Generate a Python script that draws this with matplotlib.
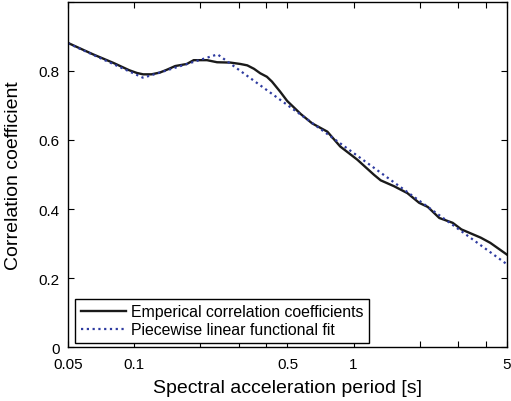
import numpy as np
import matplotlib
matplotlib.use("Agg")
import matplotlib.pyplot as plt
from matplotlib.ticker import FixedLocator, NullLocator, FixedFormatter

plt.rcParams['font.family'] = ['Liberation Sans', 'DejaVu Sans']

period_emp = [0.05, 0.065, 0.0806, 0.095, 0.103, 0.11, 0.12, 0.131, 0.142, 0.154,
              0.174, 0.187, 0.215, 0.239, 0.275, 0.305, 0.328, 0.352, 0.376, 0.403,
              0.425, 0.463, 0.4985, 0.575, 0.648, 0.76, 0.87, 1.04, 1.24, 1.33,
              1.53, 1.76, 1.99, 2.18, 2.46, 2.83, 3.1, 3.8, 4.2, 5.0]
corr_emp = [0.881, 0.848, 0.823, 0.802, 0.794, 0.790, 0.790, 0.795, 0.804, 0.814,
            0.820, 0.831, 0.831, 0.825, 0.824, 0.820, 0.816, 0.806, 0.793, 0.783,
            0.769, 0.740, 0.713, 0.675, 0.648, 0.624, 0.581, 0.543, 0.499, 0.483,
            0.466, 0.446, 0.418, 0.406, 0.374, 0.360, 0.341, 0.317, 0.302, 0.268]

# piecewise linear fit knots
period_fit = [0.05, 0.11, 0.24, 5.0]
corr_fit = [0.88, 0.78, 0.848, 0.24]

xticks = [0.05, 0.1, 0.2, 0.3, 0.4, 0.5, 1, 2, 3, 4, 5]
xticklabels = ['0.05', '0.1', '', '', '', '0.5', '1', '', '', '', '5']
yticks = [0, 0.2, 0.4, 0.6, 0.8, 1.0]
yticklabels = ['0', '0.2', '0.4', '0.6', '0.8', '']

fig = plt.figure(figsize=(5.11, 4.02), dpi=100)
ax = fig.add_axes([0.133, 0.134, 0.859, 0.859])

# fit line is straight in log-period, so sample it densely in log space
t_dense = np.logspace(np.log10(period_fit[0]), np.log10(period_fit[-1]), 400)
fit_dense = np.interp(np.log10(t_dense), np.log10(period_fit), corr_fit)

ax.plot(period_emp, corr_emp, color='#1a1a1a', lw=1.7, label='Emperical correlation coefficients')
ax.plot(t_dense, fit_dense, color='#2e3ba0', lw=1.6, linestyle=(0, (1, 1.6)),
        label='Piecewise linear functional fit')

ax.set_xscale('log')
ax.set_xlim(0.05, 5)
ax.set_ylim(0, 1)
ax.xaxis.set_major_locator(FixedLocator(xticks))
ax.xaxis.set_major_formatter(FixedFormatter(xticklabels))
ax.xaxis.set_minor_locator(NullLocator())
ax.set_yticks(yticks)
ax.set_yticklabels(yticklabels)
ax.tick_params(direction='in', top=True, right=True, length=4, width=0.8,
               labelsize=11)
ax.tick_params(axis='x', pad=7)
ax.tick_params(axis='y', pad=6)
for s in ax.spines.values():
    s.set_linewidth(1.0)

ax.set_xlabel('Spectral acceleration period [s]', fontsize=14, labelpad=6)
ax.set_ylabel('Correlation coefficient', fontsize=14, labelpad=12)

leg = ax.legend(loc='lower left', bbox_to_anchor=(0.016, 0.012), borderaxespad=0,
                fontsize=11.4, fancybox=False, edgecolor='black', framealpha=1,
                handlelength=2.9, handletextpad=0.3, labelspacing=0.2,
                borderpad=0.35)
leg.get_frame().set_linewidth(1.0)

fig.savefig('out.png', dpi=100)
